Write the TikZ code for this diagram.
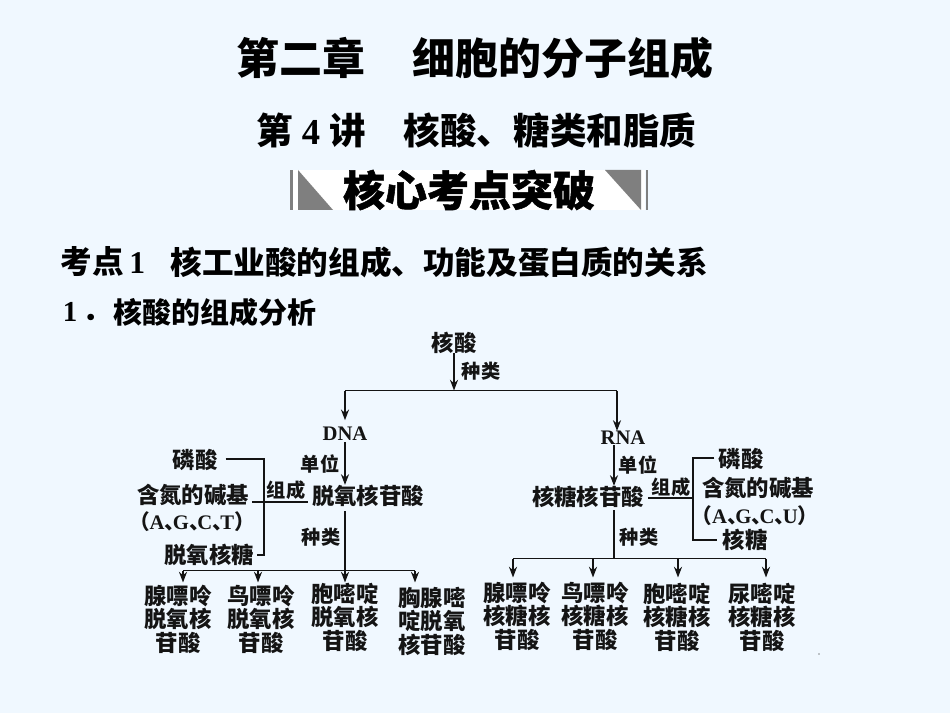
\documentclass[tikz,border=0pt]{standalone}
\usepackage{fontspec}
\setmainfont{Noto Sans CJK SC}
\newfontfamily\lat{Liberation Serif}
\newfontfamily\heavy[BoldFeatures={FakeBold=1.2}]{Noto Sans CJK SC}
\usetikzlibrary{arrows.meta}
\definecolor{bgc}{HTML}{F0F8FF}
\definecolor{ink}{HTML}{141414}
\definecolor{bargray}{HTML}{7F7F7F}
\newcommand{\fs}[1]{\fontsize{#1}{#1}\selectfont\bfseries}
\newcommand{\fscol}{\fontsize{16.8pt}{17.6pt}\selectfont\bfseries}
\newcommand{\fsheavy}{\heavy\fontsize{31.5pt}{31.5pt}\selectfont\bfseries}
\tikzset{
 t/.style={inner sep=0pt,text=ink,font=\fs{16.8pt},align=center},
 lab/.style={inner sep=0pt,text=ink,font=\fs{14.4pt}},
 seq/.style={inner sep=0pt,text=ink,font=\fs{15.5pt}},
 title/.style={inner sep=0pt,text=black,font=\fs{32.2pt}},
 subtitle/.style={inner sep=0pt,text=black,font=\fs{27.4pt}},
 headA/.style={inner sep=0pt,text=black,font=\fs{23.7pt}},
 headB/.style={inner sep=0pt,text=black,font=\fs{21.7pt}},
 ban/.style={inner sep=0pt,text=black,font=\fsheavy},
 col/.style={inner sep=0pt,text=ink,align=center,font=\fscol},
 ln/.style={draw=ink,line width=1.4pt},
 arr/.style={ln,-{Stealth[length=8pt,width=6pt]}}
}
\begin{document}
\begin{tikzpicture}[x=0.75pt,y=-0.75pt]
\useasboundingbox (0,0) rectangle (950,713);
\fill[bgc] (0,0) rectangle (950,713);
% titles
\node[title] (t1) at (301,58) {第二章};
\node[title] (t2) at (563,58) {细胞的分子组成};
\node[subtitle] (s1) at (311,130) {第\hspace{7pt}{\lat\bfseries 4}\hspace{7pt}讲};
\node[subtitle] (s2) at (550,130) {核酸、糖类和脂质};
% banner
\fill[white] (293,170) rectangle (645,210);
\fill[bargray] (290,170) rectangle (292.5,210);
\fill[bargray] (645.5,170) rectangle (648,210);
\fill[bargray] (298,170) -- (298,210) -- (333,210) -- cycle;
\fill[bargray] (605,170) -- (641,170) -- (641,210) -- cycle;
\node[ban] (b) at (469,190) {核心考点突破};
% headings
\node[headA] (h1) at (103,262) {考点\hspace{4pt}{\lat\bfseries 1}};
\node[headA] (h2) at (439,262) {核工业酸的组成、功能及蛋白质的关系};
\node[headB] (h3) at (87,312) {{\lat\bfseries 1}\,．};
\node[headB] (h4) at (215,312) {核酸的组成分析};
% diagram nodes
\node[t] (root) at (454,343) {核酸};
\node[lab] (kind) at (481,371) {种类};
\node[seq] (dna) at (345,434) {{\lat\bfseries DNA}};
\node[seq] (rna) at (623,438) {{\lat\bfseries RNA}};
\node[lab] (du) at (320,464) {单位};
\node[t] (dn) at (368,496) {脱氧核苷酸};
\node[t] (dp) at (195,460) {磷酸};
\node[t] (db) at (193,495) {含氮的碱基};
\node[seq] (dl) at (192,522) {（{\lat\bfseries A}、\kern-.6em{\lat\bfseries G}、\kern-.6em{\lat\bfseries C}、\kern-.6em{\lat\bfseries T}）};
\node[t] (ds) at (209,555) {脱氧核糖};
\node[lab] (dc) at (286,490) {组成};
\node[lab] (dk) at (321,537) {种类};
\node[col] (a1) at (178,619) {腺嘌呤\\脱氧核\\苷酸};
\node[col] (a2) at (261,619) {鸟嘌呤\\脱氧核\\苷酸};
\node[col] (a3) at (345,617) {胞嘧啶\\脱氧核\\苷酸};
\node[col] (a4) at (432,621) {胸腺嘧\\啶脱氧\\核苷酸};
\node[lab] (ru) at (638,465) {单位};
\node[t] (rn) at (588,497) {核糖核苷酸};
\node[lab] (rc) at (671,487) {组成};
\node[t] (rp) at (741,459) {磷酸};
\node[t] (rb) at (758,488) {含氮的碱基};
\node[seq] (rl) at (755,516) {（{\lat\bfseries A}、\kern-.6em{\lat\bfseries G}、\kern-.6em{\lat\bfseries C}、\kern-.6em{\lat\bfseries U}）};
\node[t] (rs) at (745,540) {核糖};
\node[lab] (rk) at (639,537) {种类};
\node[col] (c1) at (517,616) {腺嘌呤\\核糖核\\苷酸};
\node[col] (c2) at (595,616) {鸟嘌呤\\核糖核\\苷酸};
\node[col] (c3) at (677,617) {胞嘧啶\\核糖核\\苷酸};
\node[col] (c4) at (762,617) {尿嘧啶\\核糖核\\苷酸};
% junctions
\coordinate (top) at (454,390.5);
\coordinate (topL) at (345,390.5);
\coordinate (topR) at (617,390.5);
\coordinate (dUp) at (264,459);
\coordinate (dLo) at (264,555);
\coordinate (dMid) at (264,502);
\coordinate (dTr) at (345,570.5);
\coordinate (ax1) at (183,570.5);
\coordinate (ax2) at (258,570.5);
\coordinate (ax4) at (415,570.5);
\coordinate (rUp) at (693,458);
\coordinate (rLo) at (693,540);
\coordinate (rMid) at (693,498);
\coordinate (rTr) at (614,558.5);
\coordinate (cx1) at (513,558.5);
\coordinate (cx2) at (593,558.5);
\coordinate (cx3) at (678,558.5);
\coordinate (cx4) at (766,558.5);
% connectors
\draw[arr] ([yshift=1pt]root.south) -- (top);
\draw[ln] (topL) -- (topR);
\draw[arr] (topL) -- ([yshift=5pt]dna.north -| topL);
\draw[arr] (topR) -- (rna.north -| topR);
\draw[arr] ([yshift=-1pt]dna.south) -- (dn.north -| dna);
\draw[ln] ([xshift=6pt]dp.east |- dUp) -- (dUp) -- (dLo) -- ([xshift=2pt]ds.east |- dLo);
\draw[ln] ([xshift=2pt]db.east |- dMid) -- ([xshift=-3pt]dn.west |- dMid);
\draw[ln] (dna |- dn.south) ++(0,4) -- (dTr);
\draw[ln] (ax1) -- (ax4);
\draw[arr] (ax1) -- ++(0,12);
\draw[arr] (ax2) -- ++(0,12);
\draw[arr] (dTr) -- ++(0,12);
\draw[arr] (ax4) -- ++(0,12);
\draw[arr] (rna.south -| rTr) -- (rn.north -| rTr);
\draw[ln] ([xshift=-3pt]rp.west |- rUp) -- (rUp) -- (rLo) -- ([xshift=-4pt]rs.west |- rLo);
\draw[ln] ([xshift=3pt]rn.east |- rMid) -- (rMid);
\draw[ln] (rTr |- rn.south) ++(0,2) -- (rTr);
\draw[ln] (cx1) -- (cx4);
\draw[arr] (cx1) -- ++(0,19);
\draw[arr] (cx2) -- ++(0,19);
\draw[arr] (cx3) -- ++(0,19);
\draw[arr] (cx4) -- ++(0,19);
\fill[ink] (819,654) circle (0.6);
\end{tikzpicture}
\end{document}
